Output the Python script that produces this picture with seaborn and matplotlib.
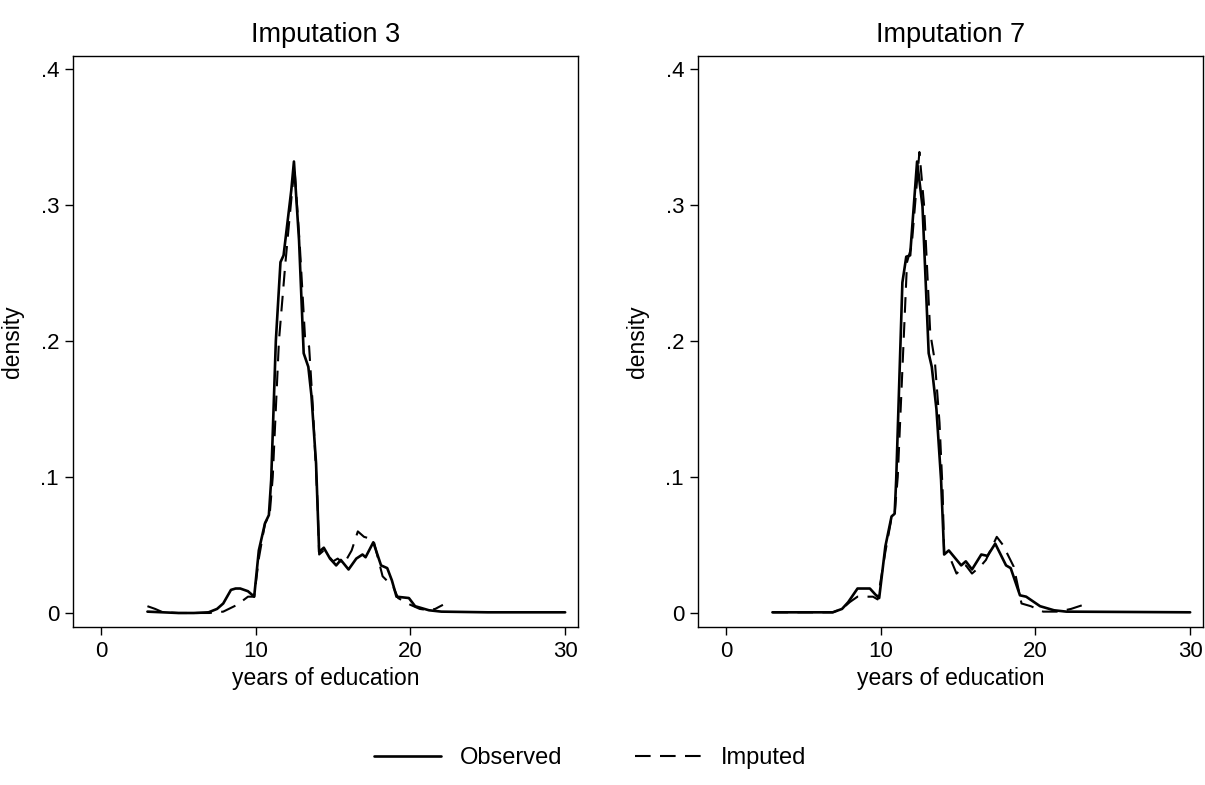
import numpy as np
import pandas as pd
import matplotlib
matplotlib.use("Agg")
import matplotlib.pyplot as plt
import seaborn as sns
from matplotlib.lines import Line2D

# ---- data ----
obs3_x = [3.0, 4.0, 5.0, 6.0, 6.95, 7.5, 7.9, 8.4, 8.7, 9.0, 9.5, 9.9, 10.2, 10.6, 10.85,
          11.0, 11.3, 11.6, 11.8, 12.3, 12.47, 12.8, 13.1, 13.4, 13.6, 13.9, 14.1, 14.4,
          14.8, 15.2, 15.5, 16.0, 16.5, 16.9, 17.1, 17.6, 18.1, 18.5, 18.8, 19.1, 19.9,
          20.3, 21.2, 22.0, 25.0, 30.0]
obs3_y = [0.001, 0.0005, 0.0, 0.0, 0.0005, 0.003, 0.007, 0.017, 0.018, 0.018, 0.016, 0.012,
          0.046, 0.066, 0.072, 0.098, 0.200, 0.258, 0.263, 0.311, 0.332, 0.274, 0.191, 0.181,
          0.160, 0.110, 0.045, 0.048, 0.040, 0.035, 0.039, 0.032, 0.040, 0.043, 0.041, 0.052,
          0.035, 0.033, 0.024, 0.012, 0.011, 0.005, 0.002, 0.001, 0.0005, 0.0005]

imp3_x = [3.0, 3.5, 4.0, 5.0, 7.0, 7.9, 8.8, 9.5, 9.9, 10.2, 10.6, 10.9, 11.1, 11.5, 11.9,
          12.1, 12.5, 12.85, 13.2, 13.45, 13.7, 14.0, 14.1, 14.4, 15.0, 15.3, 15.7, 16.2,
          16.6, 17.0, 17.6, 18.2, 18.9, 19.2, 20.0, 20.6, 21.2, 21.6, 22.1]
imp3_y = [0.005, 0.003, 0.0005, 0.0, 0.0, 0.001, 0.006, 0.012, 0.012, 0.040, 0.066, 0.072,
          0.100, 0.200, 0.255, 0.280, 0.328, 0.270, 0.200, 0.196, 0.150, 0.080, 0.043, 0.046,
          0.038, 0.040, 0.036, 0.046, 0.060, 0.056, 0.054, 0.027, 0.019, 0.011, 0.006, 0.003,
          0.002, 0.003, 0.006]

obs7_x = [3.0, 6.9, 7.5, 7.9, 8.5, 9.3, 9.7, 9.9, 10.3, 10.7, 10.9, 11.0, 11.4, 11.65, 11.9,
          12.35, 12.7, 13.1, 13.3, 13.6, 13.9, 14.1, 14.4, 15.2, 15.5, 15.9, 16.5, 16.9,
          17.4, 18.1, 18.4, 19.0, 19.4, 20.3, 21.2, 22.0, 30.0]
obs7_y = [0.0005, 0.0005, 0.003, 0.008, 0.018, 0.018, 0.013, 0.011, 0.049, 0.071, 0.073,
          0.098, 0.243, 0.262, 0.263, 0.332, 0.299, 0.191, 0.181, 0.150, 0.098, 0.043, 0.046,
          0.035, 0.038, 0.032, 0.043, 0.042, 0.051, 0.035, 0.033, 0.013, 0.012, 0.005, 0.002,
          0.001, 0.0005]

imp7_x = [3.0, 6.9, 7.5, 8.0, 8.5, 8.85, 9.5, 9.8, 10.3, 10.7, 10.9, 11.1, 11.7, 12.0, 12.5,
          12.8, 13.2, 13.5, 13.8, 14.0, 14.1, 14.5, 14.9, 15.5, 15.9, 16.5, 16.8, 17.5, 17.9,
          18.6, 19.1, 19.7, 20.5, 21.5, 22.3, 23.1]
imp7_y = [0.0005, 0.0005, 0.003, 0.008, 0.012, 0.012, 0.012, 0.010, 0.045, 0.070, 0.073,
          0.100, 0.258, 0.270, 0.339, 0.300, 0.206, 0.185, 0.140, 0.090, 0.044, 0.040, 0.029,
          0.035, 0.029, 0.035, 0.039, 0.056, 0.050, 0.034, 0.007, 0.005, 0.001, 0.001, 0.003,
          0.006]

panel_titles = ["Imputation 3", "Imputation 7"]
series_names = ["Observed", "Imputed"]
x_ticks = [0, 10, 20, 30]
y_ticks = [0, 0.1, 0.2, 0.3, 0.4]
y_ticklabels = ["0", ".1", ".2", ".3", ".4"]

frames = []
for title, (ox, oy, ix, iy) in zip(panel_titles, [(obs3_x, obs3_y, imp3_x, imp3_y),
                                                   (obs7_x, obs7_y, imp7_x, imp7_y)]):
    frames.append(pd.DataFrame({"x": ox, "y": oy, "series": "Observed", "panel": title}))
    frames.append(pd.DataFrame({"x": ix, "y": iy, "series": "Imputed", "panel": title}))
df = pd.concat(frames, ignore_index=True)

sns.set_style("ticks")
plt.rcParams["font.family"] = ["Liberation Sans", "DejaVu Sans"]
plt.rcParams["text.color"] = "black"
plt.rcParams["axes.labelcolor"] = "black"
plt.rcParams["xtick.color"] = "black"
plt.rcParams["ytick.color"] = "black"

fig = plt.figure(figsize=(12.05, 7.85), dpi=100)
ax_w, ax_h, ax_b = 505 / 1205, 571 / 785, 158 / 785
axes = [fig.add_axes([73 / 1205, ax_b, ax_w, ax_h]),
        fig.add_axes([698 / 1205, ax_b, ax_w, ax_h])]

dash = (0, (7.5, 4.5))
styles = {"Observed": dict(ls="-", lw=1.9), "Imputed": dict(ls=dash, lw=1.5)}

for ax, title in zip(axes, panel_titles):
    sub = df[df["panel"] == title]
    for name in series_names:
        d = sub[sub["series"] == name]
        sns.lineplot(data=d, x="x", y="y", ax=ax, color="black", sort=False,
                     estimator=None, legend=False, linestyle=styles[name]["ls"],
                     linewidth=styles[name]["lw"])
    ax.set_xlim(-1.81, 30.83)
    ax.set_ylim(-0.0103, 0.4096)
    ax.set_xticks(x_ticks)
    ax.set_xticklabels([str(t) for t in x_ticks])
    ax.set_yticks(y_ticks)
    ax.set_yticklabels(y_ticklabels)
    ax.tick_params(axis="both", direction="out", length=6, width=1, labelsize=16,
                   colors="black", pad=4)
    for s in ax.spines.values():
        s.set_visible(True)
        s.set_color("black")
        s.set_linewidth(1.0)
    ax.set_xlabel("years of education", fontsize=16.5, labelpad=4, color="black")
    ax.set_ylabel("density", fontsize=16.5, labelpad=12, color="black")
    ax.set_title(title, fontsize=19.5, pad=10, color="black")

handles = [Line2D([], [], color="black", ls="-", lw=1.9),
           Line2D([], [], color="black", ls=dash, lw=1.5)]
fig.legend(handles, series_names, loc="center", bbox_to_anchor=(590 / 1205, 1 - 758 / 785),
           ncol=2, frameon=False, fontsize=17, handlelength=2.85, handletextpad=0.8,
           columnspacing=3.05, labelcolor="black")

fig.savefig("out.png", dpi=100, facecolor="white")
